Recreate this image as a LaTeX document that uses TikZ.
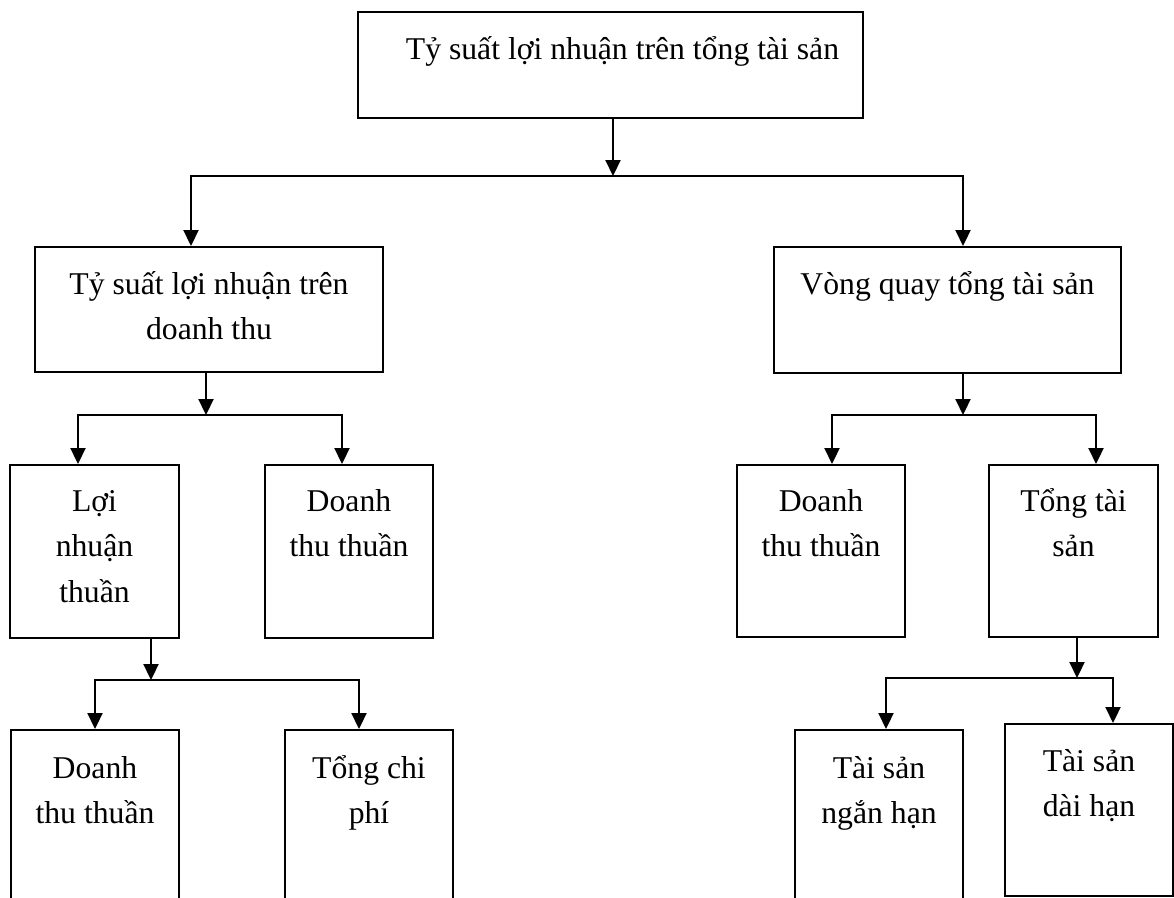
\documentclass[tikz,border=0pt]{standalone}
\usepackage{fontspec}
\setmainfont{Liberation Serif}
\usetikzlibrary{arrows.meta}
\newcommand{\bxt}[4]{\parbox[t][#2pt][t]{#1pt}{\centering\rule{0pt}{#3pt}#4}}
\begin{document}
\begin{tikzpicture}[x=1pt,y=-1pt,
  box/.style={draw, line width=2pt, inner sep=0pt, anchor=north west, font=\fontsize{31.7}{45.5}\selectfont},
  conn/.style={line width=2.2pt, line cap=rect},
  arr/.style={line width=2.2pt,-{Triangle[length=16pt,width=15pt]}}]
\useasboundingbox (0,0) rectangle (1174,897);
\fill[white] (0,0) rectangle (1174,897);
\clip (0,0) rectangle (1174,897);
% boxes
\node[box] (top) at (357,11) {\bxt{505}{106}{47}{\hspace*{24pt}Tỷ suất lợi nhuận trên tổng tài sản}};
\node[box] (l1a) at (34,246) {\bxt{348}{125}{47}{Tỷ suất lợi nhuận trên\\doanh thu}};
\node[box] (l1b) at (773,246) {\bxt{347}{126}{47}{Vòng quay tổng tài sản}};
\node[box] (l2a) at (9,464) {\bxt{169}{173}{46}{Lợi\\nhuận\\thuần}};
\node[box] (l2b) at (264,464) {\bxt{168}{173}{46}{Doanh\\thu thuần}};
\node[box] (l2c) at (736,464) {\bxt{168}{172}{46}{Doanh\\thu thuần}};
\node[box] (l2d) at (988,464) {\bxt{169}{172}{46}{Tổng tài\\sản}};
\node[box] (l3a) at (10,729) {\bxt{168}{200}{48}{Doanh\\thu thuần}};
\node[box] (l3b) at (284,729) {\bxt{168}{200}{48}{Tổng chi\\phí}};
\node[box] (l3c) at (794,729) {\bxt{168}{200}{48}{Tài sản\\ngắn hạn}};
\node[box] (l3d) at (1004,723) {\bxt{168}{172}{47}{Tài sản\\dài hạn}};
% level 0 -> 1
\coordinate (j0) at (613,176);
\coordinate (h0l) at (191,176);
\coordinate (h0r) at (963,176);
\draw[arr] (top.south -| j0) -- (j0);
\draw[conn] (h0l) -- (h0r);
\draw[arr] (h0l) -- (h0l |- l1a.north);
\draw[arr] (h0r) -- (h0r |- l1b.north);
% left level 1 -> 2
\coordinate (j1) at (206,415);
\coordinate (h1l) at (78,415);
\coordinate (h1r) at (342,415);
\draw[arr] (l1a.south -| j1) -- (j1);
\draw[conn] (h1l) -- (h1r);
\draw[arr] (h1l) -- (h1l |- l2a.north);
\draw[arr] (h1r) -- (h1r |- l2b.north);
% right level 1 -> 2
\coordinate (j2) at (963,415);
\coordinate (h2l) at (832,415);
\coordinate (h2r) at (1096,415);
\draw[arr] (l1b.south -| j2) -- (j2);
\draw[conn] (h2l) -- (h2r);
\draw[arr] (h2l) -- (h2l |- l2c.north);
\draw[arr] (h2r) -- (h2r |- l2d.north);
% left level 2 -> 3
\coordinate (j3) at (151,680);
\coordinate (h3l) at (95,680);
\coordinate (h3r) at (359,680);
\draw[arr] (l2a.south -| j3) -- (j3);
\draw[conn] (h3l) -- (h3r);
\draw[arr] (h3l) -- (h3l |- l3a.north);
\draw[arr] (h3r) -- (h3r |- l3b.north);
% right level 2 -> 3
\coordinate (j4) at (1077,678);
\coordinate (h4l) at (886,678);
\coordinate (h4r) at (1113,678);
\draw[arr] (l2d.south -| j4) -- (j4);
\draw[conn] (h4l) -- (h4r);
\draw[arr] (h4l) -- (h4l |- l3c.north);
\draw[arr] (h4r) -- (h4r |- l3d.north);
\end{tikzpicture}
\end{document}
